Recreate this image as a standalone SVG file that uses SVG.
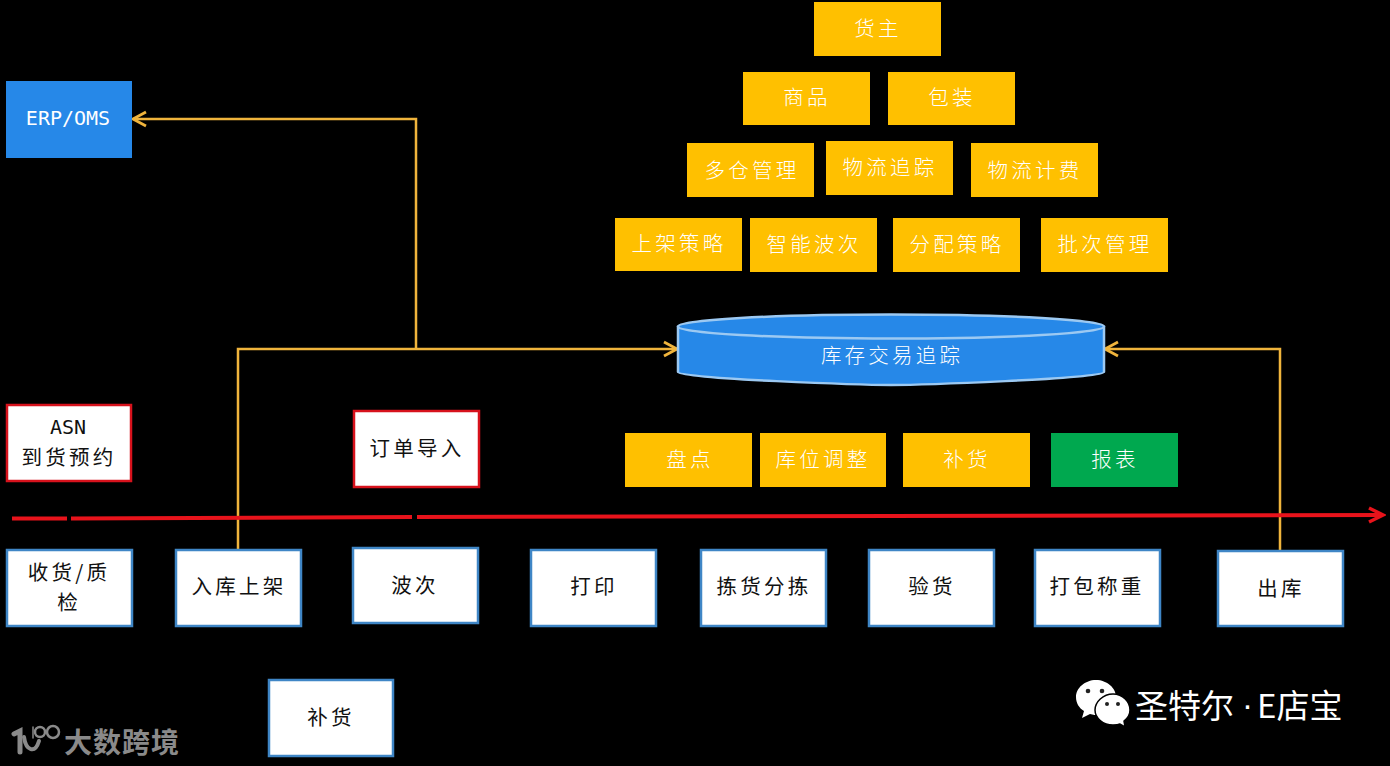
<svg xmlns="http://www.w3.org/2000/svg" width="1390" height="766" viewBox="0 0 1390 766">
<defs>
<marker id="oa" markerUnits="userSpaceOnUse" markerWidth="18" markerHeight="18" refX="15" refY="9" orient="auto"><path d="M2 2 L15 9 L2 16" fill="none" stroke="#f0b43c" stroke-width="2.8"/></marker>
<marker id="ra" markerUnits="userSpaceOnUse" markerWidth="20" markerHeight="18" refX="17" refY="9" orient="auto"><path d="M3 2 L17 9 L3 16" fill="none" stroke="#e8131b" stroke-width="3.5"/></marker>
</defs>
<style>
text{font-family:"Noto Sans CJK SC","Noto Sans",sans-serif;font-size:20.5px;font-weight:300;letter-spacing:3.2px;text-anchor:middle;dominant-baseline:central}
.y rect{fill:#ffc000}
.y text,.b text,.g text{fill:#fff}
.b rect{fill:#2688e8}
.w rect{fill:#fff;stroke:#3f86c6;stroke-width:2.5}
.r rect{fill:#fff;stroke:#d7121c;stroke-width:2.5}
.w text,.r text{fill:#111;font-weight:400}
.lat{font-family:"DejaVu Sans Mono","Liberation Mono",monospace;font-size:20px;letter-spacing:0;font-weight:400}
.c{fill:none;stroke:#f0b43c;stroke-width:2.5}
.rl{fill:none;stroke:#e8131b;stroke-width:4}
</style>
<rect width="1390" height="766" fill="#000"/>
<g id="connectors">
<path class="c" d="M238 550V349H677" marker-end="url(#oa)"/>
<path class="c" d="M416 349V119H133" marker-end="url(#oa)"/>
<path class="c" d="M1280 551V349H1105" marker-end="url(#oa)"/>
<path class="rl" d="M12 518.5H67"/>
<path class="rl" d="M71 518.5L412 517"/>
<path class="rl" d="M417 517L1383 515" marker-end="url(#ra)"/>
</g>
<g id="n-owner" class="y"><rect x="814" y="2" width="127" height="54"/><text x="878" y="27">货主</text></g>
<g id="n-goods" class="y"><rect x="743" y="72" width="127" height="53"/><text x="807" y="96">商品</text></g>
<g id="n-pack" class="y"><rect x="888" y="72" width="127" height="53"/><text x="952" y="96">包装</text></g>
<g id="n-multi" class="y"><rect x="687" y="143" width="127" height="54"/><text x="752" y="169">多仓管理</text></g>
<g id="n-track" class="y"><rect x="826" y="141" width="127" height="54"/><text x="890" y="166">物流追踪</text></g>
<g id="n-fee" class="y"><rect x="971" y="143" width="127" height="54"/><text x="1035" y="169">物流计费</text></g>
<g id="n-putaway" class="y"><rect x="615" y="218" width="127" height="53"/><text x="679" y="242">上架策略</text></g>
<g id="n-wave" class="y"><rect x="750" y="218" width="127" height="54"/><text x="814" y="243">智能波次</text></g>
<g id="n-alloc" class="y"><rect x="893" y="218" width="127" height="54"/><text x="957" y="243">分配策略</text></g>
<g id="n-batch" class="y"><rect x="1041" y="218" width="127" height="54"/><text x="1105" y="243">批次管理</text></g>
<g id="n-inventory" class="b">
<path d="M678 327V372C678 379 870 385 891 385C912 385 1104 379 1104 372V327Z" fill="#2688e8" stroke="#9cc9f2" stroke-width="2.5"/>
<ellipse cx="891" cy="326.500" rx="213" ry="12" fill="#2688e8" stroke="#9cc9f2" stroke-width="2.5"/>
<text x="892" y="354">库存交易追踪</text></g>
<g id="n-count" class="y"><rect x="625" y="433" width="127" height="54"/><text x="690" y="458">盘点</text></g>
<g id="n-adjust" class="y"><rect x="760" y="433" width="126" height="54"/><text x="823" y="458">库位调整</text></g>
<g id="n-replen" class="y"><rect x="903" y="433" width="127" height="54"/><text x="967" y="458">补货</text></g>
<g id="n-report" class="g"><rect x="1051" y="433" width="127" height="54" fill="#00a84f"/><text x="1115" y="458">报表</text></g>
<g id="n-erp" class="b"><rect x="6" y="81" width="126" height="77"/><text class="lat" x="68" y="118">ERP/OMS</text></g>
<g id="n-asn" class="r"><rect x="7" y="405" width="124" height="76"/><text class="lat" x="68" y="427">ASN</text><text x="69" y="456">到货预约</text></g>
<g id="n-order" class="r"><rect x="354" y="411" width="125" height="76"/><text x="417" y="447">订单导入</text></g>
<g id="n-receive" class="w"><rect x="7" y="550" width="125" height="76"/><text x="69" y="571">收货/质</text><text x="69" y="601">检</text></g>
<g id="n-inbound" class="w"><rect x="176" y="550" width="125" height="76"/><text x="239" y="585">入库上架</text></g>
<g id="n-wave2" class="w"><rect x="353" y="548" width="125" height="75"/><text x="415" y="584">波次</text></g>
<g id="n-print" class="w"><rect x="531" y="550" width="125" height="76"/><text x="594" y="585">打印</text></g>
<g id="n-pick" class="w"><rect x="701" y="550" width="125" height="76"/><text x="764" y="585">拣货分拣</text></g>
<g id="n-check" class="w"><rect x="869" y="550" width="125" height="76"/><text x="932" y="585">验货</text></g>
<g id="n-weigh" class="w"><rect x="1035" y="550" width="125" height="76"/><text x="1097" y="585">打包称重</text></g>
<g id="n-out" class="w"><rect x="1218" y="551" width="125" height="75"/><text x="1281" y="587">出库</text></g>
<g id="n-replen2" class="w"><rect x="269" y="680" width="124" height="76"/><text x="331" y="716">补货</text></g>
<g id="wm-right">
<path d="M1096 680C1085 680 1076 688 1076 697C1076 703 1079 708 1084 711L1082 718L1090 714C1093 715 1096 715 1099 715C1110 715 1116 707 1116 697C1116 688 1107 680 1096 680Z" fill="#fff"/>
<path d="M1113 694C1103 694 1095 702 1095 710C1095 718 1103 725 1113 725C1116 725 1118 725 1120 724L1125 727L1124 721C1128 718 1130 714 1130 710C1130 702 1123 694 1113 694Z" fill="#fff" stroke="#000" stroke-width="1.5"/>
<g fill="#222"><circle cx="1088" cy="691" r="2.3"/><circle cx="1102" cy="691" r="2.3"/><circle cx="1107" cy="704" r="2"/><circle cx="1118" cy="704" r="2"/></g>
<text y="704" style="font-size:33px;font-weight:400;letter-spacing:0;fill:#fff;text-anchor:start"><tspan x="1135">圣特尔</tspan><tspan x="1242" style="font-family:'Liberation Sans',sans-serif">·</tspan><tspan x="1257">E店宝</tspan></text>
</g>
<g id="wm-left">
<g fill="none" stroke="#8a8a8a" stroke-linecap="round">
<path d="M14 734L20 731V752" stroke-width="5"/>
<path d="M24 737C26 751 35 754 39 741" stroke-width="4"/>
<path d="M33 727V738" stroke-width="1.500"/>
<circle cx="40" cy="732" r="5" stroke-width="2.5"/><circle cx="53" cy="732" r="6" stroke-width="2.5"/>
</g>
<text x="122" y="741" style="font-size:28px;font-weight:700;letter-spacing:1px;fill:#8a8a8a">大数跨境</text>
</g>
</svg>
